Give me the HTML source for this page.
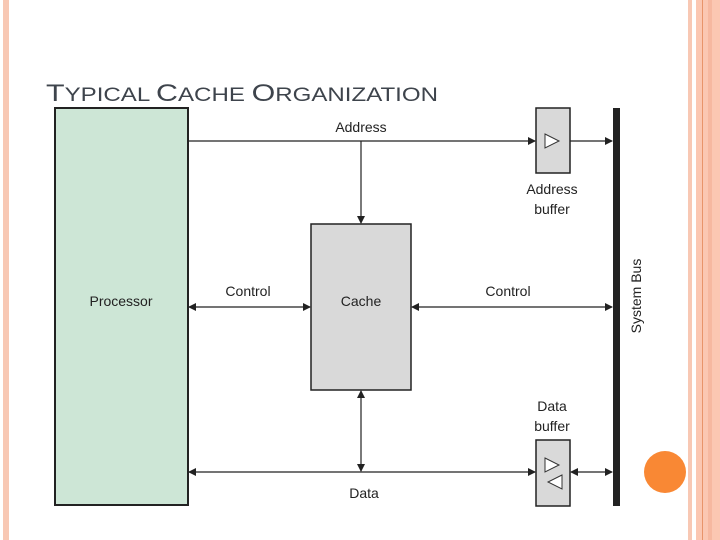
<!DOCTYPE html>
<html><head><style>
body{margin:0;width:720px;height:540px;background:#fff;overflow:hidden;position:relative;font-family:"Liberation Sans",sans-serif}
</style></head><body>
<svg width="720" height="540" style="position:absolute;left:0;top:0">
<defs>
<marker id="a" markerWidth="8" markerHeight="8" refX="7" refY="4" orient="auto-start-reverse" markerUnits="userSpaceOnUse"><path d="M0,0 L8,4 L0,8 z" fill="#222"/></marker>
</defs>
<rect x="3" y="0" width="6" height="540" fill="#f8c8b4"/>
<rect x="688" y="0" width="4" height="540" fill="#f8c8b4"/>
<rect x="696" y="0" width="24" height="540" fill="#fbc7b2"/>
<rect x="702" y="0" width="1" height="540" fill="#e8946a"/>
<rect x="708" y="0" width="4" height="540" fill="#f6b8a0"/>
<text x="46" y="101" font-size="24" fill="#3e444c" textLength="392" lengthAdjust="spacingAndGlyphs">T<tspan font-size="19">YPICAL </tspan>C<tspan font-size="19">ACHE </tspan>O<tspan font-size="19">RGANIZATION</tspan></text>
<rect x="55" y="108" width="133" height="397" fill="#cde6d6" stroke="#222" stroke-width="2"/>
<rect x="311" y="224" width="100" height="166" fill="#d9d9d9" stroke="#222" stroke-width="1.5"/>
<rect x="536" y="108" width="34" height="65" fill="#d9d9d9" stroke="#222" stroke-width="1.5"/>
<rect x="536" y="440" width="34" height="66" fill="#d9d9d9" stroke="#222" stroke-width="1.5"/>
<path d="M545,134 L559,141 L545,148 z" fill="#fff" stroke="#333"/>
<path d="M545,458 L559,465 L545,472 z" fill="#fff" stroke="#333"/>
<path d="M562,475 L548,482 L562,489 z" fill="#fff" stroke="#333"/>
<rect x="613" y="108" width="7" height="398" fill="#222"/>
<g stroke="#222" stroke-width="1.2" fill="none">
<line x1="188" y1="141" x2="535" y2="141" marker-end="url(#a)"/>
<line x1="570" y1="141" x2="612" y2="141" marker-end="url(#a)"/>
<line x1="361" y1="141" x2="361" y2="223" marker-end="url(#a)"/>
<line x1="189" y1="307" x2="310" y2="307" marker-start="url(#a)" marker-end="url(#a)"/>
<line x1="412" y1="307" x2="612" y2="307" marker-start="url(#a)" marker-end="url(#a)"/>
<line x1="189" y1="472" x2="535" y2="472" marker-start="url(#a)" marker-end="url(#a)"/>
<line x1="361" y1="391" x2="361" y2="471" marker-start="url(#a)" marker-end="url(#a)"/>
<line x1="571" y1="472" x2="612" y2="472" marker-start="url(#a)" marker-end="url(#a)"/>
</g>
<g font-size="14" fill="#222" text-anchor="middle">
<text x="361" y="132">Address</text>
<text x="121" y="306">Processor</text>
<text x="248" y="296">Control</text>
<text x="361" y="306">Cache</text>
<text x="508" y="296">Control</text>
<text x="552" y="194">Address</text>
<text x="552" y="214">buffer</text>
<text x="552" y="411">Data</text>
<text x="552" y="431">buffer</text>
<text x="364" y="498">Data</text>
<text transform="translate(641,296) rotate(-90)">System Bus</text>
</g>
<circle cx="665" cy="472" r="21" fill="#f98834"/>
</svg>
</body></html>
